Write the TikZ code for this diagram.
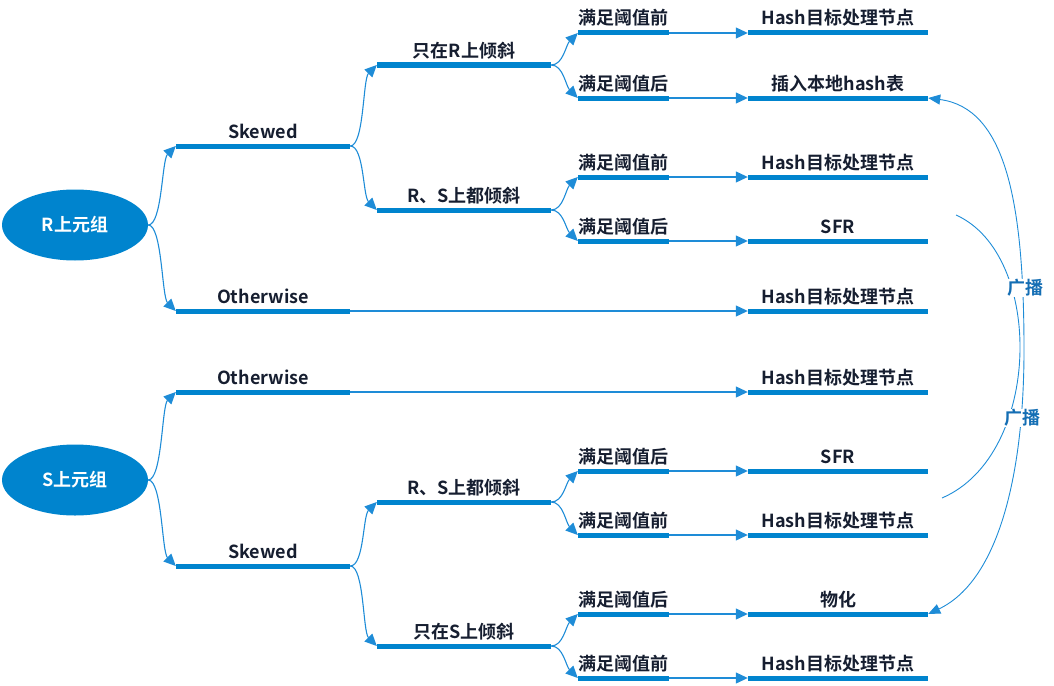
\documentclass[tikz,border=0pt]{standalone}
\usepackage{fontspec}
\newfontfamily\yh{Noto Sans CJK SC Bold}
\usetikzlibrary{arrows.meta,shapes.geometric}
\definecolor{mblue}{RGB}{0,132,206}
\definecolor{lblue}{RGB}{30,140,215}
\definecolor{txt}{RGB}{22,30,48}
\definecolor{bctxt}{RGB}{20,110,180}
\tikzset{
  bar/.style={rectangle,fill=mblue,inner sep=0pt,minimum height=5pt},
  lab/.style={font=\yh\fontsize{18}{20}\selectfont,text=txt,inner sep=0pt,anchor=base},
  root/.style={ellipse,fill=mblue,minimum width=146pt,minimum height=71pt,inner sep=0pt,
    text=white,font=\yh\fontsize{18}{20}\selectfont},
  conn/.style={draw=lblue,line width=1.1pt,-{Triangle[length=12pt,width=11pt]}},
  bcast/.style={draw=lblue,line width=0.9pt},
  bcarrows/.style={{Triangle[length=12pt,width=10pt]}-{Triangle[length=12pt,width=10pt]}},
  bclab/.style={font=\yh\fontsize{18}{20}\selectfont,text=bctxt,fill=white,inner sep=0.5pt},
}
\newcommand\topic[5]{%
  \node[bar,minimum width=#4pt] (#1) at (#2,#3) {};
  \node[lab] (#1t) at ([yshift=8pt]#1.center) {#5};}
\newcommand\up[2]{\draw[conn] (#1.east) .. controls +(14,0) and +(-14,14) .. (#2.west);}
\newcommand\down[2]{\draw[conn] (#1.east) .. controls +(14,0) and +(-14,-14) .. (#2.west);}
\newcommand\upb[2]{\draw[conn] (#1.east) .. controls +(12,0) and +(-12,12) .. (#2.west);}
\newcommand\downb[2]{\draw[conn] (#1.east) .. controls +(12,0) and +(-12,-12) .. (#2.west);}
\newcommand\straight[2]{\draw[conn] (#1.east) -- (#2.west);}
\begin{document}
\begin{tikzpicture}[x=1pt,y=-1pt]
\useasboundingbox (0,0) rectangle (1054,685);
% ---------- R ----------
\node[root] (R) at (75,225) {R上元组};
\topic{rsk}{263}{146}{174}{Skewed}
\topic{roth}{263}{311}{174}{Otherwise}
\topic{ronly}{464}{65}{174}{只在R上倾斜}
\topic{rboth}{464}{210}{174}{R、S上都倾斜}
\topic{ra}{623.5}{33}{91}{满足阈值前}
\topic{rb}{623.5}{98}{91}{满足阈值后}
\topic{rc}{623.5}{177}{91}{满足阈值前}
\topic{rd}{623.5}{241}{91}{满足阈值后}
\topic{rax}{838}{33}{180}{Hash目标处理节点}
\topic{rbx}{838}{98}{180}{插入本地hash表}
\topic{rcx}{838}{177}{180}{Hash目标处理节点}
\topic{rdx}{838}{241}{180}{SFR}
\topic{rex}{838}{311}{180}{Hash目标处理节点}
\up{R}{rsk}
\down{R}{roth}
\up{rsk}{ronly}
\down{rsk}{rboth}
\upb{ronly}{ra}
\downb{ronly}{rb}
\upb{rboth}{rc}
\downb{rboth}{rd}
\straight{ra}{rax}
\straight{rb}{rbx}
\straight{rc}{rcx}
\straight{rd}{rdx}
\straight{roth}{rex}
% ---------- S ----------
\node[root] (S) at (75,480) {S上元组};
\topic{soth}{263}{392}{174}{Otherwise}
\topic{ssk}{263}{566}{174}{Skewed}
\topic{sboth}{464}{502}{174}{R、S上都倾斜}
\topic{sonly}{464}{646}{174}{只在S上倾斜}
\topic{sa}{623.5}{471}{91}{满足阈值后}
\topic{sb}{623.5}{535}{91}{满足阈值前}
\topic{sc}{623.5}{614}{91}{满足阈值后}
\topic{sd}{623.5}{678}{91}{满足阈值前}
\topic{sox}{838}{392}{180}{Hash目标处理节点}
\topic{sax}{838}{471}{180}{SFR}
\topic{sbx}{838}{535}{180}{Hash目标处理节点}
\topic{scx}{838}{614}{180}{物化}
\topic{sdx}{838}{678}{180}{Hash目标处理节点}
\up{S}{soth}
\down{S}{ssk}
\up{ssk}{sboth}
\down{ssk}{sonly}
\upb{sboth}{sa}
\downb{sboth}{sb}
\upb{sonly}{sc}
\downb{sonly}{sd}
\straight{sa}{sax}
\straight{sb}{sbx}
\straight{sc}{scx}
\straight{sd}{sdx}
\straight{soth}{sox}
% ---------- broadcast ----------
\coordinate (a1) at (956,215);
\coordinate (a2) at (942,498);
\coordinate (bm) at (1024,350);
\draw[bcast] (a1) .. controls (1045,255) and (1042,455) .. (a2);
\draw[bcast,bcarrows] (rbx.east) .. controls (1005,108) and (1024,200) .. (bm)
   .. controls (1024,470) and (1000,580) .. (scx.east);
\node[bclab] (bc1) at (1025,288) {广播};
\node[bclab] (bc2) at (1022,418) {广播};
\end{tikzpicture}
\end{document}
